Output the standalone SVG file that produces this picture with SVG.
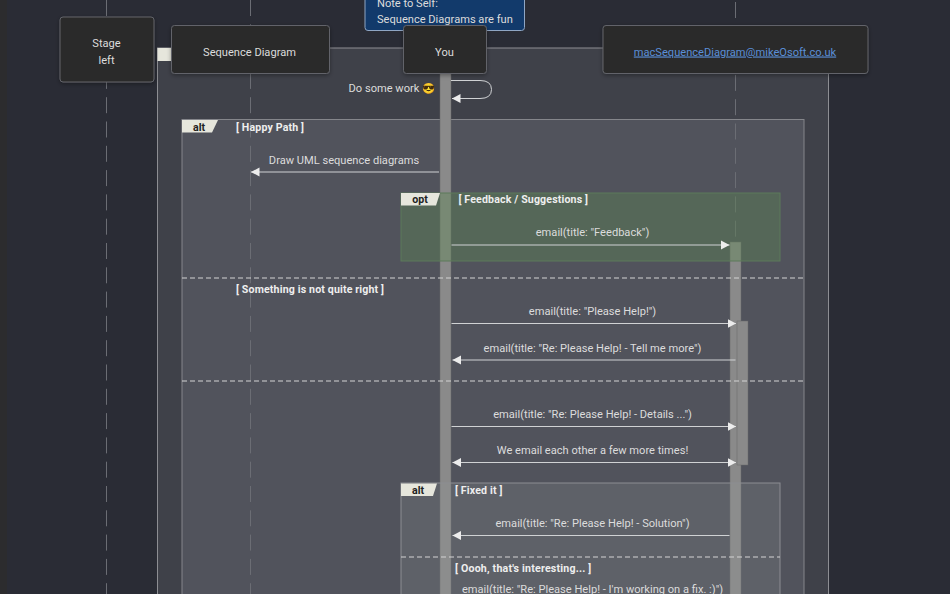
<svg xmlns="http://www.w3.org/2000/svg" width="950" height="594" viewBox="0 0 950 594">
<style>
text{font-family:"Roboto","Liberation Sans",Arial,sans-serif;font-size:11.1px;fill:#dcdcdc}
.m{text-anchor:middle}
.lab{font-weight:700;fill:#eeeeee;font-size:10.6px;letter-spacing:.15px}
.tag{font-weight:700;fill:#222;font-size:10.6px;text-anchor:middle}
.life{stroke:#6b6d74;stroke-width:1;stroke-dasharray:16 8.3;fill:none}
.act{fill:#8a8a8a;stroke:#6a6a6a;stroke-width:.5}
.msg{stroke:#d0d2d4;stroke-width:1;fill:none}
.div{stroke:#d4d4d4;stroke-width:1;stroke-dasharray:5 3;fill:none}
.actor{fill:#2b2b2b;stroke:#62646a;stroke-width:1;filter:url(#sh)}
.t{fill:#e6e6dc}
</style>
<defs>
<filter id="sh" x="-10%" y="-10%" width="120%" height="130%"><feDropShadow dx="0" dy="1.5" stdDeviation="2" flood-color="#000" flood-opacity=".35"/></filter>
<marker id="ah" markerUnits="userSpaceOnUse" markerWidth="10" markerHeight="10" refX="8.500" refY="5" orient="auto-start-reverse"><path d="M0 .5L8.500 5L0 9.500z" fill="#ececec"/></marker>
</defs>
<rect width="950" height="594" fill="#2a2c35"/>
<rect width="7" height="594" fill="#2c2c2e"/>
<rect x="157.500" y="48" width="671" height="560" fill="#3f4149" stroke="#8d8e93"/>
<rect x="157.500" y="48" width="20" height="13" fill="#e6e6dc"/>
<rect x="182" y="119.500" width="622" height="500" fill="#51535c" stroke="#85868b"/>
<g id="lifelines">
<path class="life" d="M106.500 0V594"/>
<path class="life" d="M250.500 0V594"/>
<path class="life" d="M735.500 2V594"/>
</g>
<g id="activations">
<rect class="act" x="440" y="70" width="11" height="530"/>
<rect class="act" x="730" y="242" width="11" height="360"/>
<rect class="act" x="737" y="321" width="11" height="144"/>
</g>
<path class="t" d="M182 120H218L212 132.500H182z"/>
<text class="tag" x="199" y="130.500">alt</text>
<text class="lab" x="236" y="130.500">[ Happy Path ]</text>
<rect x="401" y="193" width="379" height="68" fill="rgb(93,135,82)" fill-opacity=".4" stroke="#5d7a5b"/>
<path class="t" d="M401 193H440L436 205.500H401z"/>
<text class="tag" x="420" y="203">opt</text>
<text class="lab" x="458.500" y="203">[ Feedback / Suggestions ]</text>
<path class="div" d="M182 278H804"/>
<text class="lab" x="236" y="292.500">[ Something is not quite right ]</text>
<path class="div" d="M182 381H804"/>
<rect x="401" y="483" width="379" height="130" fill="#97999c" fill-opacity=".2" stroke="#8c8d92"/>
<path class="t" d="M401 483.500H437L433 496H401z"/>
<text class="tag" x="418" y="493.500">alt</text>
<text class="lab" x="455" y="493.500">[ Fixed it ]</text>
<path class="div" d="M401 557H780"/>
<text class="lab" x="455" y="571.500" style="letter-spacing:.2px">[ Oooh, that's interesting... ]</text>
<g id="connectors">
<path class="msg" marker-end="url(#ah)" d="M451 80.500H480Q491.500 80.500 491.500 89.500T480 98.500H452"/>
<path class="msg" marker-end="url(#ah)" d="M439 172H251"/>
<path class="msg" marker-end="url(#ah)" d="M451.500 245H729.500"/>
<path class="msg" marker-end="url(#ah)" d="M451.500 323.500H736"/>
<path class="msg" marker-end="url(#ah)" d="M735.500 360H452.500"/>
<path class="msg" marker-end="url(#ah)" d="M451.500 426.500H736"/>
<path class="msg" marker-start="url(#ah)" marker-end="url(#ah)" d="M452.500 462.500H736"/>
<path class="msg" marker-end="url(#ah)" d="M729.500 535.500H452.500"/>
</g>
<text class="m" x="384" y="92">Do some work</text>
<text x="422.500" y="92" style="font-family:'Noto Color Emoji','Noto Sans',sans-serif;font-size:10.500px">😎</text>
<text class="m" x="344" y="163.500">Draw UML sequence diagrams</text>
<text class="m" x="592.500" y="236">email(title: "Feedback")</text>
<text class="m" x="592.500" y="315">email(title: "Please Help!")</text>
<text class="m" x="592.500" y="351.500">email(title: "Re: Please Help! - Tell me more")</text>
<text class="m" x="592.500" y="417.500">email(title: "Re: Please Help! - Details ...")</text>
<text class="m" x="592.500" y="454">We email each other a few more times!</text>
<text class="m" x="592.500" y="527">email(title: "Re: Please Help! - Solution")</text>
<text class="m" x="592.500" y="593">email(title: "Re: Please Help! - I'm working on a fix. :)")</text>
<g id="note">
<rect x="365" y="-20" width="159.500" height="50.500" rx="3" fill="#123a6b" stroke="#8fa6c4"/>
<text x="377" y="6.500">Note to Self:</text>
<text x="377" y="22.500">Sequence Diagrams are fun</text>
</g>
<g id="stage"><rect class="actor" x="60" y="17" width="94" height="65" rx="3"/>
<text class="m" x="106.500" y="47">Stage</text><text class="m" x="106.500" y="64">left</text></g>
<g id="sequence-diagram"><rect class="actor" x="171.500" y="25.500" width="158" height="48" rx="3"/>
<text class="m" x="249.500" y="55.500">Sequence Diagram</text></g>
<g id="you"><rect class="actor" x="403.500" y="25.500" width="83" height="48" rx="3"/>
<text class="m" x="444.500" y="55.500">You</text></g>
<g id="mail"><rect class="actor" x="603" y="25.500" width="265" height="48" rx="3"/>
<text class="m" x="735" y="55.500" style="fill:#5a8fd8;text-decoration:underline">macSequenceDiagram@mikeOsoft.co.uk</text></g>
</svg>
